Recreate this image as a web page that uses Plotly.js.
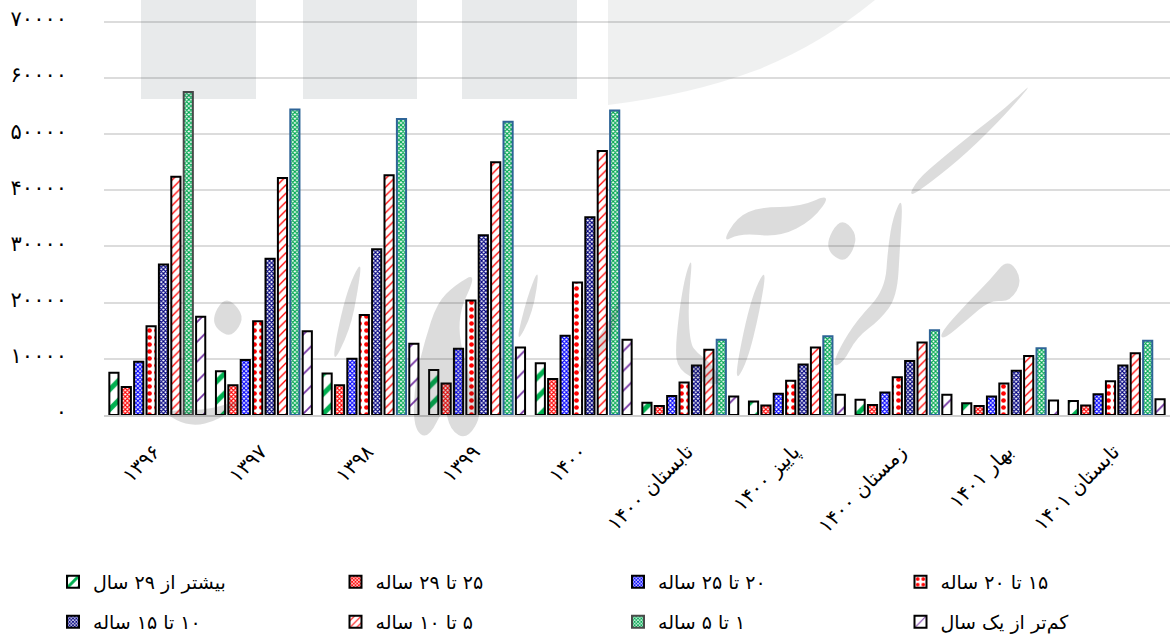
<!DOCTYPE html>
<html>
<head>
<meta charset="utf-8">
<script src="https://cdn.plot.ly/plotly-3.0.1.min.js"></script>
<style>html,body{margin:0;padding:0;background:#fff}#chart{width:1171px;height:636px}</style>
</head>
<body>
<div id="chart"></div>
<script>
var categories = ["۱۳۹۶","۱۳۹۷","۱۳۹۸","۱۳۹۹","۱۴۰۰","تابستان ۱۴۰۰","پاییز ۱۴۰۰","زمستان ۱۴۰۰","بهار ۱۴۰۱","تابستان ۱۴۰۱"];
var yTickVals = [0,10000,20000,30000,40000,50000,60000,70000];
var yTickText = ["۰","۱۰۰۰۰","۲۰۰۰۰","۳۰۰۰۰","۴۰۰۰۰","۵۰۰۰۰","۶۰۰۰۰","۷۰۰۰۰"];

var over29 = [7500,7800,7400,8000,9200,2200,2400,2700,2100,2500];
var a25to29 = [5000,5300,5300,5600,6400,1600,1700,1800,1600,1700];
var a20to25 = [9500,9800,10000,11800,14100,3400,3800,4000,3300,3700];
var a15to20 = [15800,16700,17800,20400,23600,5800,6100,6700,5600,6000];
var a10to15 = [26800,27800,29500,32000,35200,8800,9000,9600,7900,8800];
var a5to10 = [42400,42200,42700,45000,47000,11600,12000,12900,10500,11000];
var a1to5 = [57500,54400,52700,52200,54200,13400,14000,15100,11900,13200];
var under1 = [17500,14900,12700,12000,13400,3300,3600,3600,2600,2800];

var names = ["بیشتر از ۲۹ سال","۲۵ تا ۲۹ ساله","۲۰ تا ۲۵ ساله","۱۵ تا ۲۰ ساله","۱۰ تا ۱۵ ساله","۵ تا ۱۰ ساله","۱ تا ۵ ساله","کم‌تر از یک سال"];

var L=104,T=19,W=1066,H=396;
function px(x,y){return ((x-L)/W).toFixed(5)+','+((T+H-y)/H).toFixed(5);}
function smooth(p){
  var n=p.length, d='';
  for(var i=0;i<n;i++){
    var a=p[i],b=p[(i+1)%n];
    var m=[(a[0]+b[0])/2,(a[1]+b[1])/2];
    if(i===0){var z=p[n-1];d+='M'+px((z[0]+a[0])/2,(z[1]+a[1])/2);}
    d+=' Q'+px(a[0],a[1])+' '+px(m[0],m[1]);
  }
  return d+' Z';
}
function poly(p){return 'M'+p.map(function(q){return px(q[0],q[1]);}).join(' L')+' Z';}
var strokes = [
 [[1035,80],[1007,107],[973,133],[940,160],[917,180],[908,198],[930,183],[967,153],[1007,113]],
 [[903,195],[893,217],[888,247],[885,290],[857,320],[840,347],[832,367],[843,363],[857,337],[880,320],[897,297],[900,247]],
 [[1008,258],[1023,280],[1010,302],[990,300],[967,320],[943,340],[940,333],[970,300],[990,280]],
 [[840,217],[857,233],[853,252],[842,263],[824,247]],
 [[832,193],[800,207],[760,207],[737,217],[722,243],[740,233],[780,237],[813,220]],
 [[693,253],[683,283],[675,347],[678,370],[703,383],[725,385],[710,362],[697,353],[690,343],[688,303]],
 [[767,265],[750,300],[733,385],[747,363],[760,310]],
 [[225,295],[243,313],[240,327],[228,338],[210,322]],
 [[362,258],[345,295],[330,370],[350,330],[358,290]],
 [[478,272],[455,285],[437,303],[425,340],[415,380],[413,428],[428,440],[445,405],[450,430],[467,440],[483,413],[470,380],[455,320]],
 [[540,265],[527,297],[515,347],[533,313]],
 [[163,413],[190,427],[220,420],[247,397],[210,410],[175,410]],
 [[623,290],[612,340],[590,367],[575,375],[593,345],[610,320]]
];
var blocks = [
 [[141,0],[256,0],[256,99],[141,99]],
 [[303,0],[417,0],[417,99],[303,99]],
 [[462,0],[577,0],[577,99],[462,99]]
];
var shapes = [];
blocks.forEach(function(b){shapes.push({type:'path',xref:'paper',yref:'paper',layer:'above',path:poly(b),fillcolor:'rgba(50,60,70,0.11)',line:{width:0}});});
shapes.push({type:'path',xref:'paper',yref:'paper',layer:'above',
  path:'M'+px(608,0)+' L'+px(875,0)+' Q'+px(820,45)+' '+px(757,70)+' Q'+px(690,95)+' '+px(608,105)+' Z',
  fillcolor:'rgba(50,60,70,0.08)',line:{width:0}});
strokes.forEach(function(s){shapes.push({type:'path',xref:'paper',yref:'paper',layer:'above',path:smooth(s),fillcolor:'rgba(40,40,40,0.16)',line:{width:0}});});

var seriesValues = [over29,a25to29,a20to25,a15to20,a10to15,a5to10,a1to5,under1];
var patterns = [
 {shape:'/',size:14,solidity:0.36,fgcolor:'#00b050',bgcolor:'#ffffff',fillmode:'replace'},
 {shape:'x',size:3,solidity:0.6,fgcolor:'#ff0000',bgcolor:'#ffffff',fillmode:'replace'},
 {shape:'x',size:3,solidity:0.6,fgcolor:'#0000ff',bgcolor:'#ffffff',fillmode:'replace'},
 {shape:'.',size:7,solidity:0.36,fgcolor:'#ff0000',bgcolor:'#ffffff',fillmode:'replace'},
 {shape:'x',size:3,solidity:0.62,fgcolor:'#000080',bgcolor:'#ffffff',fillmode:'replace'},
 {shape:'/',size:6,solidity:0.22,fgcolor:'#ff0000',bgcolor:'#ffffff',fillmode:'replace'},
 {shape:'x',size:3,solidity:0.62,fgcolor:'#00a850',bgcolor:'#ffffff',fillmode:'replace'},
 {shape:'/',size:14,solidity:0.12,fgcolor:'#7030a0',bgcolor:'#ffffff',fillmode:'replace'}
];
var traces = seriesValues.map(function(v,i){
  var lc = '#000000', lcArr=null;
  if(i===6){lcArr=v.map(function(_,k){return k===0?'#4a4a4a':'#2e6497';});}
  return {type:'bar',x:categories,y:v,name:'\u200F'+names[i],legend:i<4?'legend':'legend2',
    marker:{color:'#ffffff',pattern:patterns[i],line:{color:lcArr||lc,width:2}},hoverinfo:'skip'};
});
var fontFam = '"DejaVu Sans","Noto Sans",sans-serif';
function legend(y){return {orientation:'h',x:(53-L)/W,xanchor:'left',y:(T+H-y)/H,yanchor:'middle',
  entrywidth:237.5,entrywidthmode:'pixels',itemwidth:30,bgcolor:'rgba(0,0,0,0)',traceorder:'normal',
  font:{family:fontFam,size:19,color:'#000'},itemclick:false,itemdoubleclick:false};}
var layout = {
  width:1171,height:636,paper_bgcolor:'#fff',plot_bgcolor:'#fff',
  margin:{l:L,r:1171-L-W,t:T,b:636-T-H,autoexpand:false},
  barmode:'group',bargap:0.07,bargroupgap:0.26,showlegend:true,
  font:{family:fontFam,size:20,color:'#000'},
  xaxis:{type:'category',tickangle:-45,tickfont:{family:fontFam,size:20,color:'#000'},showgrid:false,
    showline:true,linecolor:'#cfcfcf',linewidth:2,ticks:'',ticklabelstandoff:15,ticklabelshift:-3,automargin:false},
  yaxis:{range:[0,70500],tickvals:yTickVals,ticktext:yTickText,gridcolor:'#dcdcdc',gridwidth:2,
    zeroline:false,showline:false,ticks:'',ticklabelstandoff:36,ticklabelshift:-3,tickfont:{family:fontFam,size:21,color:'#000'},automargin:false},
  legend:legend(582),legend2:legend(622),
  shapes:shapes
};
Plotly.newPlot('chart',traces,layout,{displayModeBar:false,responsive:false});
</script>
</body>
</html>
